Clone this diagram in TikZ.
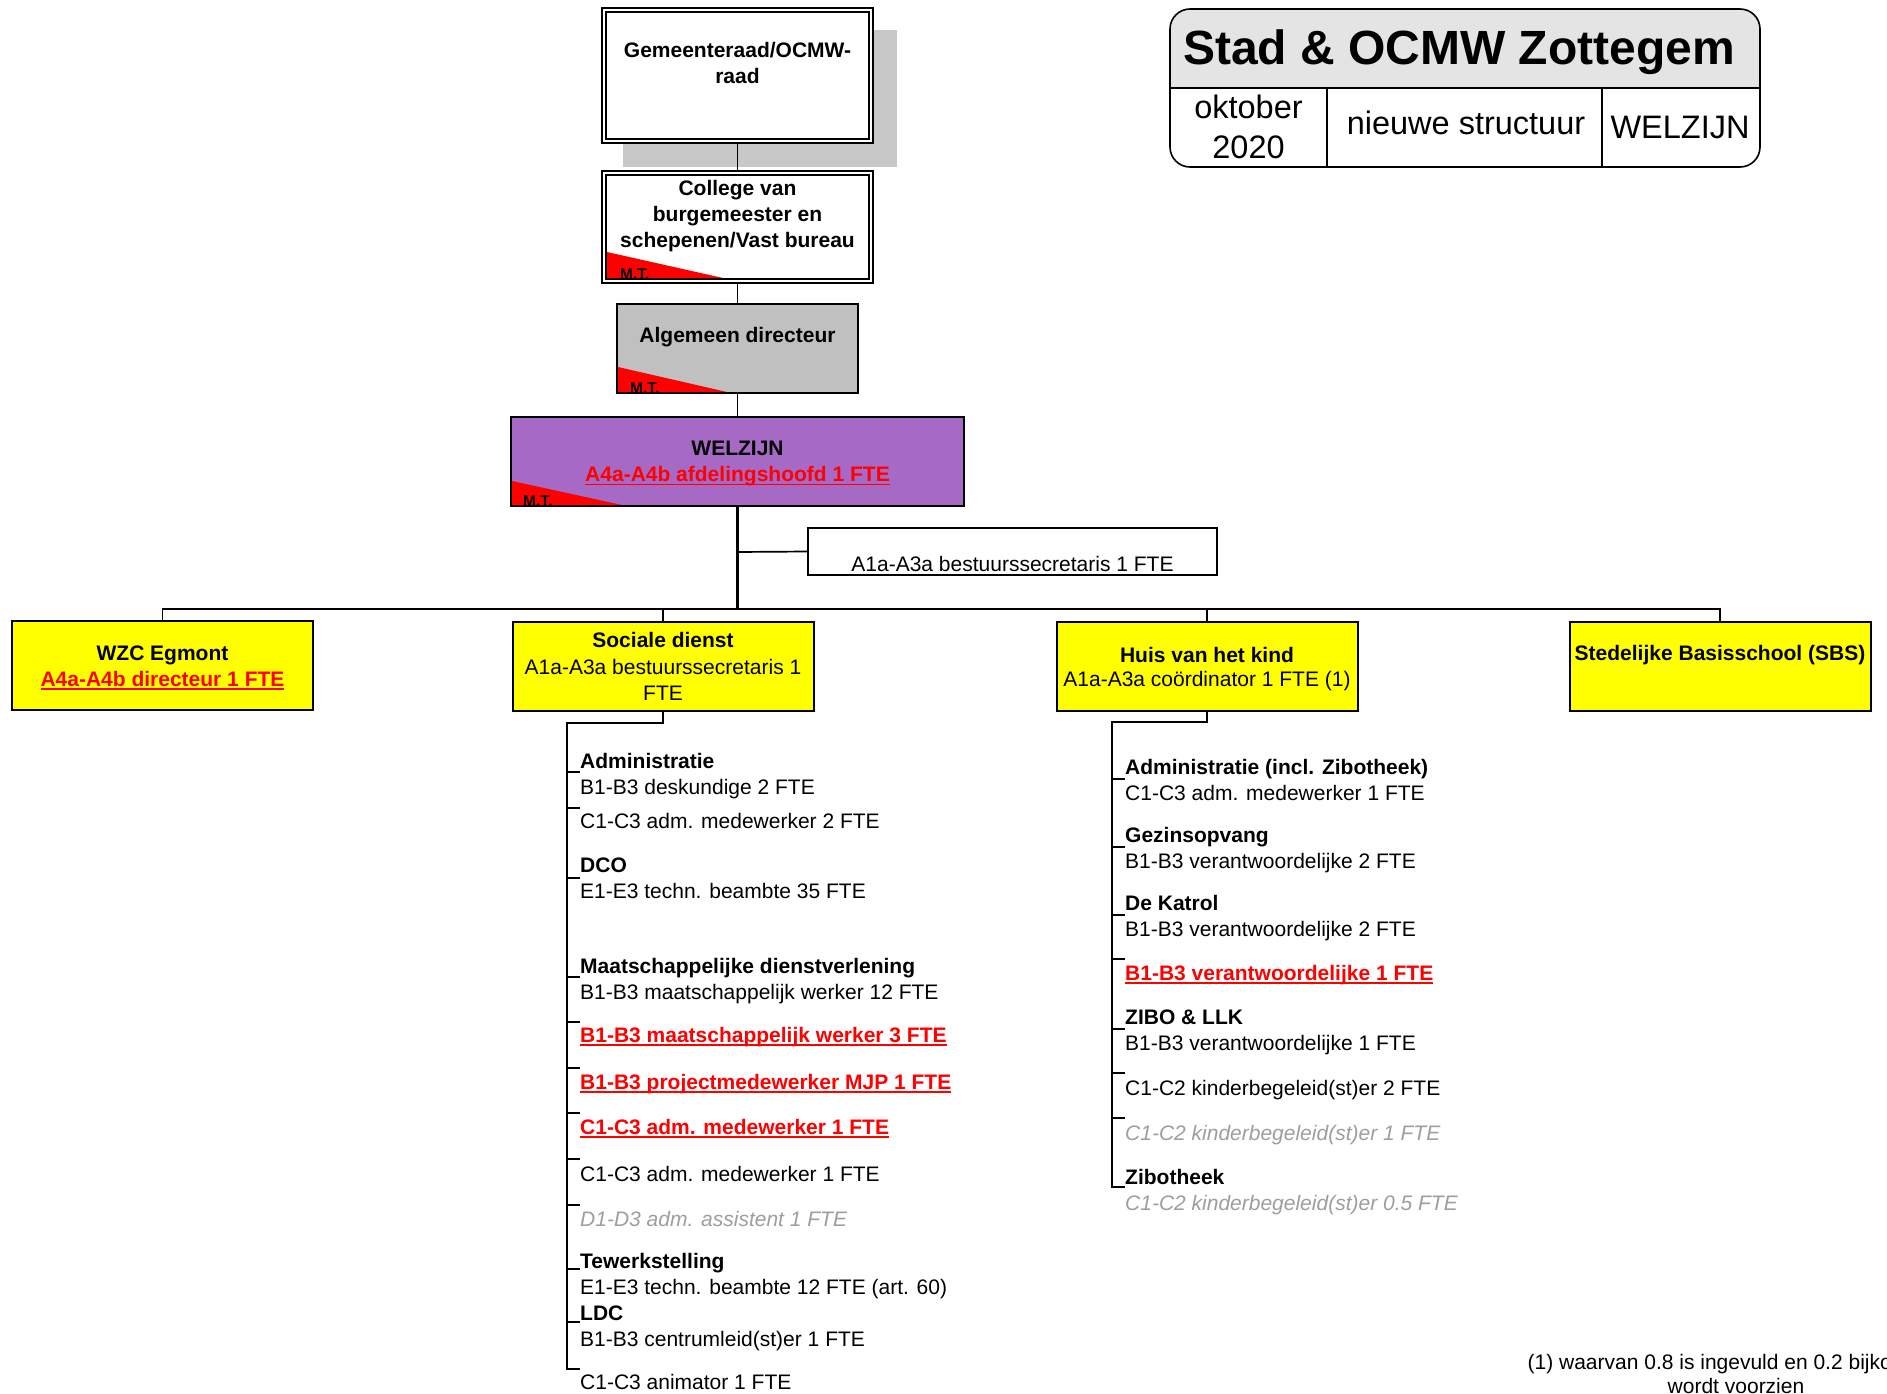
\documentclass[tikz,border=0pt]{standalone}
\usepackage{fontspec}
\setmainfont{Liberation Sans}
\usetikzlibrary{positioning}

\definecolor{welzijnpaars}{RGB}{166,106,198}
\definecolor{dienstgeel}{RGB}{255,255,0}
\definecolor{directeurgrijs}{RGB}{192,192,192}
\definecolor{schaduwgrijs}{RGB}{200,200,200}
\definecolor{kopgrijs}{RGB}{228,228,228}
\definecolor{vacatgrijs}{RGB}{158,158,158}

\newcommand{\orgfont}{\fontsize{21}{25.8}\selectfont}
\newsavebox\ulbox
% nieuwe functie: rood, vet, onderlijnd
\newcommand{\nieuw}[1]{{\color{red}\bfseries\sbox\ulbox{#1}\rlap{\rule[-3.5pt]{\wd\ulbox}{1.8pt}}\usebox\ulbox}}
% niet ingevulde functie: grijs, cursief
\newcommand{\vrij}[1]{{\color{vacatgrijs}\itshape #1}}
\newcommand{\kop}[1]{\strut\textbf{#1}}

\tikzset{
  kader/.style={draw, line width=2pt, inner sep=0pt},
  dubbelkader/.style={draw, double, line width=2pt, double distance=2.5pt, fill=white, inner sep=0pt},
  geelkader/.style={kader, fill=dienstgeel, minimum width=301, minimum height=89},
  vaktekst/.style={anchor=north, inner sep=0pt, align=center},
  lijsttekst/.style={anchor=north west, inner sep=0pt, align=left},
  mtlabel/.style={anchor=base west, inner sep=0pt, font=\fontsize{15.5}{15.5}\selectfont\bfseries},
  verbinding/.style={line width=1.7pt},
  stam/.style={line width=2pt},
  streep/.style={line width=1.3pt},
}

\begin{document}
\begin{tikzpicture}[x=1pt,y=1pt,yscale=-1,xscale=1,font=\orgfont]
\path[use as bounding box, clip] (0,0) rectangle (1887,1394);
\fill[white] (0,0) rectangle (1887,1394);

%Shape: schaduw achter gemeenteraad
\fill[schaduwgrijs] (623,30) rectangle (897,167);
%Shape: Gemeenteraad
\node[dubbelkader, minimum width=267, minimum height=131] (raad) at (737.5,75.5) {};
%Shape: College
\node[dubbelkader, minimum width=267, minimum height=108] (college) at (737.5,227) {};
\fill[red] (607,252) -- (607,278) -- (723,278) -- cycle;
%Shape: Algemeen directeur
\node[kader, fill=directeurgrijs, minimum width=241, minimum height=89] (directeur) at (737.5,348.5) {};
\fill[red] (618,367) -- (618,392) -- (727,392) -- cycle;
%Shape: WELZIJN
\node[kader, fill=welzijnpaars, minimum width=453, minimum height=89] (welzijn) at (737.5,461.5) {};
\fill[red] (512,481) -- (512,505) -- (622,505) -- cycle;
%Shape: bestuurssecretaris
\node[kader, line width=1.5pt, minimum width=409, minimum height=47] (secretaris) at (1012.5,551.5) {};
%Shape: diensten
\node[geelkader] (wzc) at (162.5,665.5) {};
\node[geelkader] (sociale) at (663,666.5) {};
\node[geelkader] (huis) at (1207,666) {};
\node[geelkader] (sbs) at (1720,666) {};

%Straight Lines: hoofdlijn
\coordinate (bus) at (737.5,609);
\coordinate (sec-tap) at (737.5,552);
\draw[verbinding] (raad.south) -- (college.north);
\draw[verbinding] (college.south) -- (directeur.north);
\draw[verbinding] (directeur.south) -- (welzijn.north);
\draw[line width=3pt] (welzijn.south) -- (bus);
\draw[verbinding] (sec-tap) -- (secretaris.west);
\draw[verbinding] (wzc.north) |- (bus) -| (sbs.north);
\draw[verbinding] (sociale.north) -- (sociale.north |- bus);
\draw[verbinding] (huis.north) -- (huis.north |- bus);

% Text Node
\node[vaktekst, font=\orgfont\bfseries] (raad-txt) at (737.5,42.5) {Gemeenteraad/OCMW-\\raad};
\node[vaktekst, font=\orgfont\bfseries] (college-txt) at (737.5,180.5) {College van\\burgemeester en\\schepenen/Vast bureau};
\node[mtlabel] (college-mt) at (620,279) {M.T.};
\node[vaktekst, font=\orgfont\bfseries] (directeur-txt) at (737.5,327.5) {Algemeen directeur};
\node[mtlabel] (directeur-mt) at (630,393) {M.T.};
\node[vaktekst] (welzijn-txt) at (737.5,440.5) {\textbf{WELZIJN}\\[1pt]\nieuw{A4a-A4b afdelingshoofd 1 FTE}};
\node[mtlabel] (welzijn-mt) at (523,506) {M.T.};
\node[vaktekst] (secretaris-txt) at (1012.5,556.5) {A1a-A3a bestuurssecretaris 1 FTE};
\node[vaktekst] (wzc-txt) at (162.5,645.5) {\textbf{WZC Egmont}\\\nieuw{A4a-A4b directeur 1 FTE}};
\node[vaktekst] (sociale-txt) at (663,632.5) {\textbf{Sociale dienst}\\[0.5pt]A1a-A3a bestuurssecretaris 1\\[0.5pt]FTE};
\node[vaktekst] (huis-txt) at (1207,647) {\textbf{Huis van het kind}\\[-1.5pt]A1a-A3a coördinator 1 FTE (1)};
\node[vaktekst, font=\orgfont\bfseries] (sbs-txt) at (1720,645.5) {Stedelijke Basisschool (SBS)};

%Shape: titelkader
\begin{scope}
\clip[rounded corners=20] (1170,9) rectangle (1760,167);
\fill[kopgrijs] (1170,9) rectangle (1760,88);
\end{scope}
\node[draw, line width=1.6pt, rounded corners=20, minimum width=590, minimum height=158, inner sep=0pt] (kader) at (1465,88) {};
\coordinate (deel1) at (1327,88);
\coordinate (deel2) at (1602,88);
\draw[line width=1.6pt] (kader.west) -- (kader.east);
\draw[line width=1.6pt] (deel1) -- (deel1 |- kader.south);
\draw[line width=1.6pt] (deel2) -- (deel2 |- kader.south);
% Text Node
\node[anchor=base, inner sep=0pt, font=\fontsize{48}{55}\selectfont\bfseries] (titel) at (1459,64.5) {Stad \& OCMW Zottegem};
\node[vaktekst, font=\fontsize{32.5}{39.5}\selectfont] (datum) at (1248.5,91) {\strut oktober\\2020};
\node[anchor=base, inner sep=0pt, font=\fontsize{32.5}{39.5}\selectfont] (soort) at (1466,135) {nieuwe structuur};
\node[anchor=base, inner sep=0pt, font=\fontsize{32.5}{39.5}\selectfont] (afdeling) at (1680,139) {WELZIJN};

%Straight Lines: Sociale dienst
\coordinate (sd-knik) at (567,723);
\coordinate (sd-eind) at (567,1369);
% Text Node
\node[lijsttekst] (sd1) at (580,750.5) {\kop{Administratie}\\B1-B3 deskundige 2 FTE};
\node[lijsttekst] (sd2) at (580,810.5) {\strut C1-C3 adm. medewerker 2 FTE};
\node[lijsttekst] (sd3) at (580,854.5) {\kop{DCO}\\E1-E3 techn. beambte 35 FTE};
\node[lijsttekst] (sd4) at (580,955.5) {\kop{Maatschappelijke dienstverlening}\\B1-B3 maatschappelijk werker 12 FTE};
\node[lijsttekst] (sd5) at (580,1024.5) {\strut\nieuw{B1-B3 maatschappelijk werker 3 FTE}};
\node[lijsttekst] (sd6) at (580,1071.5) {\strut\nieuw{B1-B3 projectmedewerker MJP 1 FTE}};
\node[lijsttekst] (sd7) at (580,1116.5) {\strut\nieuw{C1-C3 adm. medewerker 1 FTE}};
\node[lijsttekst] (sd8) at (580,1163.5) {\strut C1-C3 adm. medewerker 1 FTE};
\node[lijsttekst] (sd9) at (580,1208.5) {\strut\vrij{D1-D3 adm. assistent 1 FTE}};
\node[lijsttekst] (sd10) at (580,1250.5) {\kop{Tewerkstelling}\\E1-E3 techn. beambte 12 FTE (art. 60)};
\node[lijsttekst] (sd11) at (580,1302.5) {\kop{LDC}\\B1-B3 centrumleid(st)er 1 FTE};
\node[lijsttekst] (sd12) at (580,1371.5) {\strut C1-C3 animator 1 FTE};
\draw[stam] (sociale.south) |- (sd-knik) -- (sd-eind) -- (sd-eind -| sd12.west);
\coordinate (sd-t1) at (567,772);
\coordinate (sd-t2) at (567,808);
\coordinate (sd-t3) at (567,878);
\coordinate (sd-t4) at (567,977);
\coordinate (sd-t5) at (567,1022);
\coordinate (sd-t6) at (567,1068);
\coordinate (sd-t7) at (567,1113);
\coordinate (sd-t8) at (567,1159);
\coordinate (sd-t9) at (567,1205);
\coordinate (sd-t10) at (567,1269);
\coordinate (sd-t11) at (567,1322);
\draw[streep] (sd-t1) -- (sd-t1 -| sd1.west);
\draw[streep] (sd-t2) -- (sd-t2 -| sd2.west);
\draw[streep] (sd-t3) -- (sd-t3 -| sd3.west);
\draw[streep] (sd-t4) -- (sd-t4 -| sd4.west);
\draw[streep] (sd-t5) -- (sd-t5 -| sd5.west);
\draw[streep] (sd-t6) -- (sd-t6 -| sd6.west);
\draw[streep] (sd-t7) -- (sd-t7 -| sd7.west);
\draw[streep] (sd-t8) -- (sd-t8 -| sd8.west);
\draw[streep] (sd-t9) -- (sd-t9 -| sd9.west);
\draw[streep] (sd-t10) -- (sd-t10 -| sd10.west);
\draw[streep] (sd-t11) -- (sd-t11 -| sd11.west);

%Straight Lines: Huis van het kind
\coordinate (hk-knik) at (1112,722);
\coordinate (hk-eind) at (1112,1187);
% Text Node
\node[lijsttekst] (hk1) at (1125,756.5) {\kop{Administratie (incl. Zibotheek)}\\C1-C3 adm. medewerker 1 FTE};
\node[lijsttekst] (hk2) at (1125,824.5) {\kop{Gezinsopvang}\\B1-B3 verantwoordelijke 2 FTE};
\node[lijsttekst] (hk3) at (1125,892.5) {\kop{De Katrol}\\B1-B3 verantwoordelijke 2 FTE};
\node[lijsttekst] (hk4) at (1125,962.5) {\strut\nieuw{B1-B3 verantwoordelijke 1 FTE}};
\node[lijsttekst] (hk5) at (1125,1006.5) {\kop{ZIBO \& LLK}\\B1-B3 verantwoordelijke 1 FTE};
\node[lijsttekst] (hk6) at (1125,1077.5) {\strut C1-C2 kinderbegeleid(st)er 2 FTE};
\node[lijsttekst] (hk7) at (1125,1122.5) {\strut\vrij{C1-C2 kinderbegeleid(st)er 1 FTE}};
\node[lijsttekst] (hk8) at (1125,1166.5) {\kop{Zibotheek}\\\vrij{C1-C2 kinderbegeleid(st)er 0.5 FTE}};
\draw[stam] (huis.south) |- (hk-knik) -- (hk-eind) -- (hk-eind -| hk8.west);
\coordinate (hk-t1) at (1112,779);
\coordinate (hk-t2) at (1112,847);
\coordinate (hk-t3) at (1112,915);
\coordinate (hk-t4) at (1112,959);
\coordinate (hk-t5) at (1112,1029);
\coordinate (hk-t6) at (1112,1073);
\coordinate (hk-t7) at (1112,1118);
\draw[streep] (hk-t1) -- (hk-t1 -| hk1.west);
\draw[streep] (hk-t2) -- (hk-t2 -| hk2.west);
\draw[streep] (hk-t3) -- (hk-t3 -| hk3.west);
\draw[streep] (hk-t4) -- (hk-t4 -| hk4.west);
\draw[streep] (hk-t5) -- (hk-t5 -| hk5.west);
\draw[streep] (hk-t6) -- (hk-t6 -| hk6.west);
\draw[streep] (hk-t7) -- (hk-t7 -| hk7.west);

% Text Node: voetnoot
\node[vaktekst, font=\fontsize{21}{24}\selectfont] (voetnoot) at (1736,1352.8) {\strut(1) waarvan 0.8 is ingevuld en 0.2 bijkomend\\wordt voorzien};

\end{tikzpicture}
\end{document}
